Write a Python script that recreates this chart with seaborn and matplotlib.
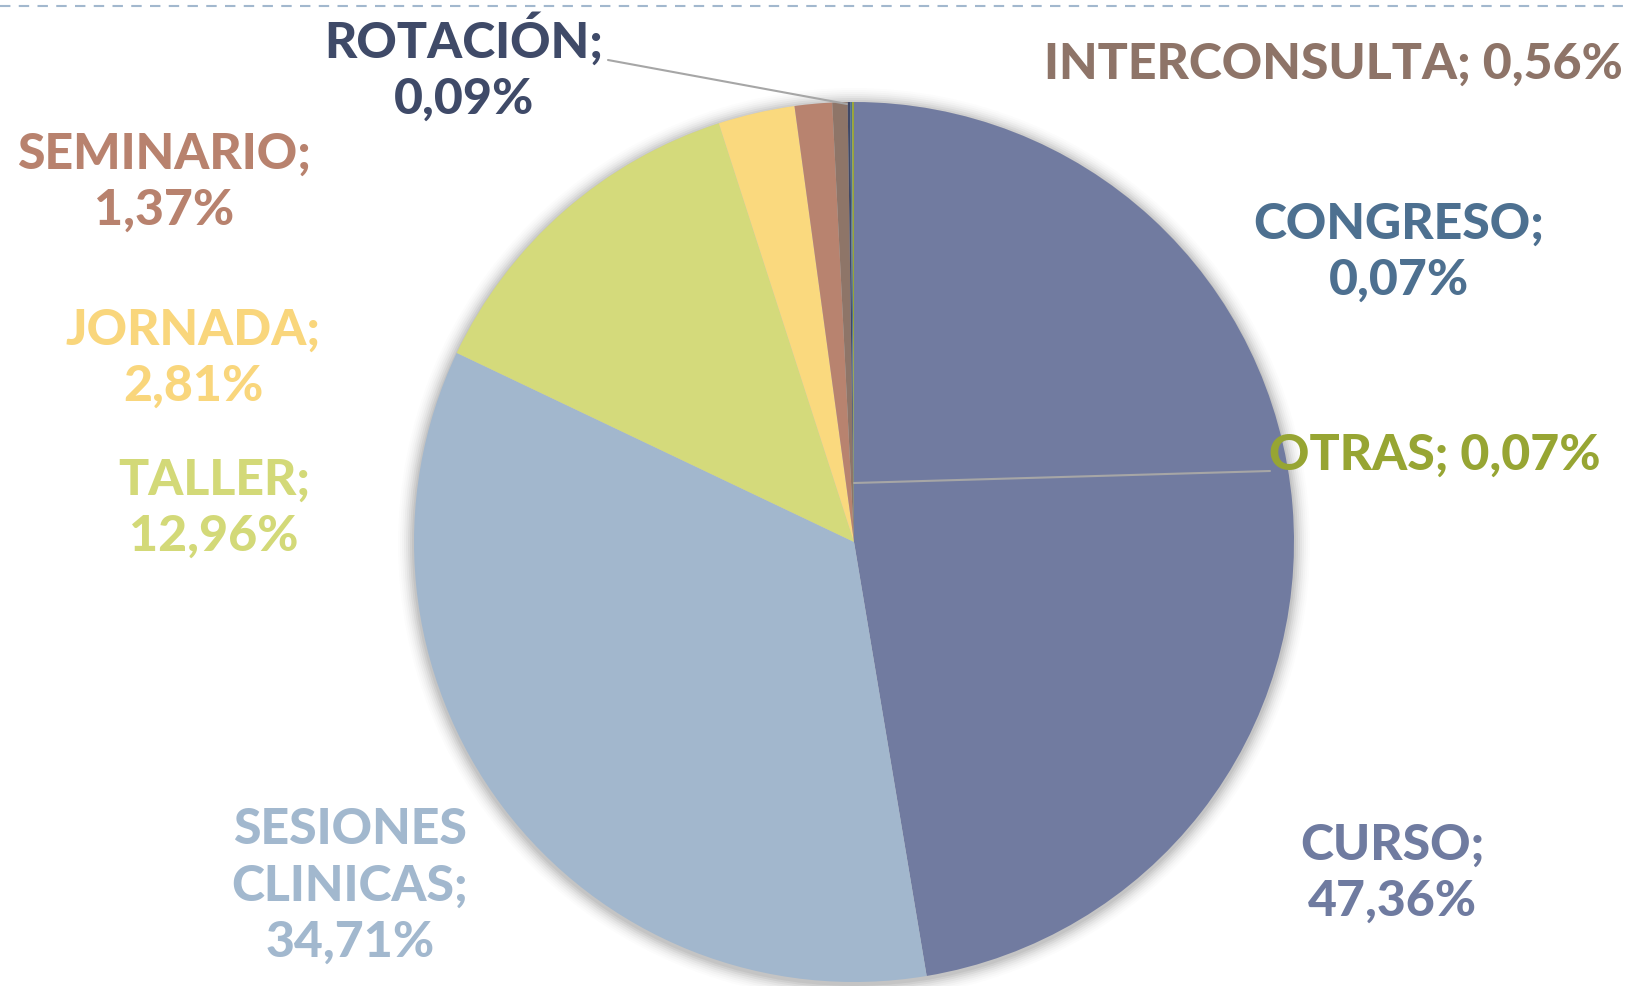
import numpy as np
import matplotlib
matplotlib.use("Agg")
import matplotlib.pyplot as plt
import seaborn as sns

# data (clockwise from 12 o'clock)
categories = ["CURSO", "SESIONES CLINICAS", "TALLER", "JORNADA", "SEMINARIO",
              "INTERCONSULTA", "ROTACIÓN", "CONGRESO", "OTRAS"]
shares = [47.36, 34.71, 12.96, 2.81, 1.37, 0.56, 0.09, 0.07, 0.07]
label_text = ["CURSO;\n47,36%", "SESIONES\nCLINICAS;\n34,71%", "TALLER;\n12,96%",
              "JORNADA;\n2,81%", "SEMINARIO;\n1,37%", "INTERCONSULTA; 0,56%",
              "ROTACIÓN;\n0,09%", "CONGRESO;\n0,07%", "OTRAS; 0,07%"]

slice_colors = ["#717BA0", "#A2B7CD", "#D4DA7B", "#FAD97E", "#B8836F",
                "#8E7568", "#404866", "#4E7191", "#98A535"]
text_colors = ["#6F7BA0", "#A2B8CE", "#D3D978", "#F9D67C", "#B8826E",
               "#8E7468", "#3F4A68", "#4D7090", "#97A533"]

# label anchor positions in pixel coords (top-left origin)
label_pos = [(1392, 873), (350, 886), (214, 508), (193, 358), (164, 182),
             (1333, 64), (464, 67), (1399, 252), (1435, 455)]

W, H = 1629, 986
sns.set_style("white")
plt.rcParams["font.family"] = ["Lato", "DejaVu Sans"]

fig = plt.figure(figsize=(W / 100, H / 100), dpi=100)
ax = fig.add_axes([0, 0, 1, 1])

cx, cy, r = 854, H - 542, 440

# soft shadow behind pie
for k, a in enumerate(np.linspace(0.05, 0.01, 8)):
    ax.add_patch(plt.Circle((cx, cy - 2), r + 2 + k * 2, color="black",
                            alpha=a, lw=0, zorder=0))

pal = sns.color_palette(slice_colors)
ax.pie(shares, colors=pal, startangle=90, counterclock=False,
       center=(cx, cy), radius=r, frame=True,
       wedgeprops=dict(linewidth=0))
ax.set_xlim(0, W)
ax.set_ylim(0, H)
ax.set_aspect("equal")
ax.axis("off")

# leader lines
ax.plot([608, 847], [H - 60, H - 104], color="#A6A6A6", lw=1.5, zorder=5)
ax.plot([854, 1270], [H - 483, H - 471], color="#A6A6A6", lw=1.5, zorder=5)

for txt, col, (x, y) in zip(label_text, text_colors, label_pos):
    ax.text(x, H - y, txt, color=col, fontsize=36, fontweight="black",
            ha="center", va="center", linespacing=1.3, zorder=6)

# dashed line across the top
ax.plot([0, W], [H - 6, H - 6], color="#A2B8CE", lw=1.5,
        dashes=(5, 4), zorder=1)

fig.savefig("out.png", dpi=100)
